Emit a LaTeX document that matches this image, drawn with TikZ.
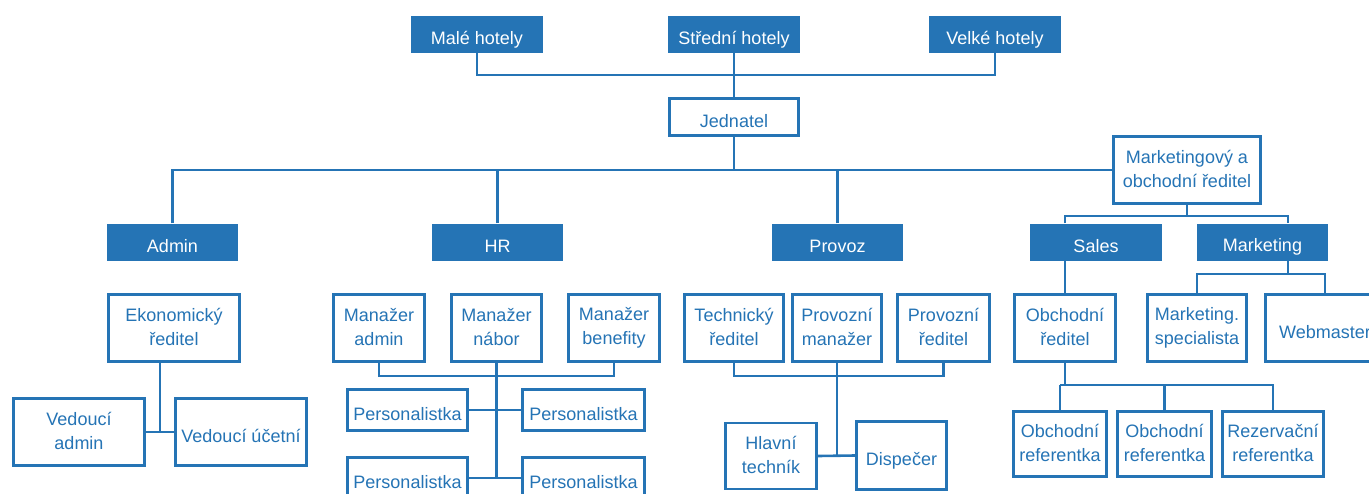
\documentclass[tikz,border=0pt]{standalone}
\usepackage{fontspec}
\setmainfont{Liberation Sans}
\usepackage{tikz}
\definecolor{hotelblue}{RGB}{37,116,181}
\usetikzlibrary{calc,positioning}
\tikzset{%
  box/.style={rectangle, align=center, inner sep=0pt, font=\fontsize{18}{24}\selectfont,
    execute at begin node=\rule{0pt}{23pt}, execute at end node=\rule[-3pt]{0pt}{3pt}},
  unit/.style={box, fill=hotelblue, text=white, minimum height=37pt},% filled department / hotel type
  role/.style={box, draw=hotelblue, line width=2.6pt, fill=white, text=hotelblue},% job title
  link/.style={draw=hotelblue, line width=2.6pt}% org chart lines
}

\begin{document}
\begin{tikzpicture}[x=1pt, y=-1pt]
\useasboundingbox (0,0) rectangle (1369,493);
\clip (0,0) rectangle (1369,493);

% hotel types
\node[unit, minimum width=132pt] (male) at (477,34.5) {Malé hotely};
\node[unit, minimum width=132pt] (stredni) at (734,34.5) {Střední hotely};
\node[unit, minimum width=132pt] (velke) at (995,34.5) {Velké hotely};

\node[role, minimum width=129pt, minimum height=37pt] (jednatel) at (734,117) {Jednatel};
\node[role, minimum width=147pt, minimum height=67pt] (mos) at (1187,170) {Marketingový a\\obchodní ředitel};

% departments
\node[unit, minimum width=131pt] (admin) at (172.5,242) {Admin};
\node[unit, minimum width=131pt] (hr) at (497.5,242) {HR};
\node[unit, minimum width=131pt] (provoz) at (837.5,242) {Provoz};
\node[unit, minimum width=132pt] (sales) at (1096,242) {Sales};
\node[unit, minimum width=131pt] (mkt) at (1262.5,242) {Marketing};

% admin
\node[role, minimum width=131pt, minimum height=67pt] (ekon) at (174,328) {Ekonomický\\ředitel};
\node[role, minimum width=131pt, minimum height=67pt] (vadmin) at (79,432) {Vedoucí\\admin};
\node[role, minimum width=131pt, minimum height=67pt] (vucetni) at (241,432) {Vedoucí účetní};

% hr
\node[role, minimum width=91pt, minimum height=67pt] (madmin) at (379,328) {Manažer\\admin};
\node[role, minimum width=90pt, minimum height=67pt] (mnabor) at (496.5,328) {Manažer\\nábor};
\node[role, minimum width=91pt, minimum height=67pt] (mbenef) at (614,328) {Manažer\\benefity};
\node[role, minimum width=120pt, minimum height=41pt] (pers1) at (407.5,410) {Personalistka};
\node[role, minimum width=122pt, minimum height=41pt] (pers2) at (583.5,410) {Personalistka};
\node[role, minimum width=120pt, minimum height=41pt] (pers3) at (407.5,478) {Personalistka};
\node[role, minimum width=122pt, minimum height=41pt] (pers4) at (583.5,478) {Personalistka};

% provoz
\node[role, minimum width=99pt, minimum height=67pt] (tech) at (734,328) {Technický\\ředitel};
\node[role, minimum width=89pt, minimum height=67pt] (pman) at (837,328) {Provozní\\manažer};
\node[role, minimum width=92pt, minimum height=67pt] (pred) at (943.5,328) {Provozní\\ředitel};
\node[role, minimum width=91pt, minimum height=66pt] (hlavni) at (771,456) {Hlavní\\techník};
\node[role, minimum width=90pt, minimum height=68pt] (dispec) at (901.5,455.5) {Dispečer};

% sales + marketing
\node[role, minimum width=101pt, minimum height=67pt] (obred) at (1065,328) {Obchodní\\ředitel};
\node[role, minimum width=99pt, minimum height=67pt] (spec) at (1197,328) {Marketing.\\specialista};
\node[role, minimum width=119pt, minimum height=67pt] (web) at (1325,328) {Webmaster};
\node[role, minimum width=93pt, minimum height=65pt] (ref1) at (1060,444) {Obchodní\\referentka};
\node[role, minimum width=94pt, minimum height=65pt] (ref2) at (1164.5,444) {Obchodní\\referentka};
\node[role, minimum width=101pt, minimum height=65pt] (rez) at (1273,444) {Rezervační\\referentka};

% bus lines
\coordinate (topbus) at (0,75);
\coordinate (mobus) at (0,216);
\coordinate (mkbus) at (0,274);
\coordinate (mgrbus) at (0,376);
\coordinate (refbus) at (0,385);
\coordinate (mkdrop) at (1288,0);
\coordinate (admgap) at ($(vadmin.east)!.5!(vucetni.west)$);

\draw[link] (male.south) -- (male.south |- topbus) -- (velke.south |- topbus) -- (velke.south);
\draw[link] (stredni.south) -- (jednatel.north);
\draw[link] (jednatel.south) -- (jednatel.south |- mos.west);
\draw[link] (admin.north) -- (admin.north |- mos.west) -- (mos.west);
\draw[link] (hr.north) -- (hr.north |- mos.west);
\draw[link] (provoz.north) -- (provoz.north |- mos.west);

\draw[link] (mos.south) -- (mos.south |- mobus);
\draw[link] (sales.north -| obred.north) -- (obred.north |- mobus) -- (mkdrop |- mobus) -- (mkt.north -| mkdrop);
\draw[link] (sales.south -| obred.north) -- (obred.north);
\draw[link] (mkt.south -| mkdrop) -- (mkdrop |- mkbus);
\draw[link] (spec.north) -- (spec.north |- mkbus) -- (web.north |- mkbus) -- (web.north);
\draw[link] (obred.south) -- (obred.south |- refbus);
\draw[link] (ref1.north |- refbus) -- (rez.north |- refbus) -- (rez.north);
\draw[link] (ref1.north) -- (ref1.north |- refbus);
\draw[link] (ref2.north) -- (ref2.north |- refbus);

\draw[link] (vadmin.east) -- (vucetni.west);
\draw[link] (admgap) -- (admgap |- ekon.south);

\draw[link] (madmin.south) -- (madmin.south |- mgrbus) -- (mbenef.south |- mgrbus) -- (mbenef.south);
\draw[link] (mnabor.south) -- (mnabor.south |- pers3.east);
\draw[link] (pers1.east) -- (pers2.west);
\draw[link] (pers3.east) -- (pers4.west);

\draw[link] (tech.south) -- (tech.south |- mgrbus) -- (pred.south |- mgrbus) -- (pred.south);
\draw[link] (pman.south) -- (pman.south |- hlavni.east);
\draw[link] (hlavni.east) -- (dispec.west);
\end{tikzpicture}
\end{document}
